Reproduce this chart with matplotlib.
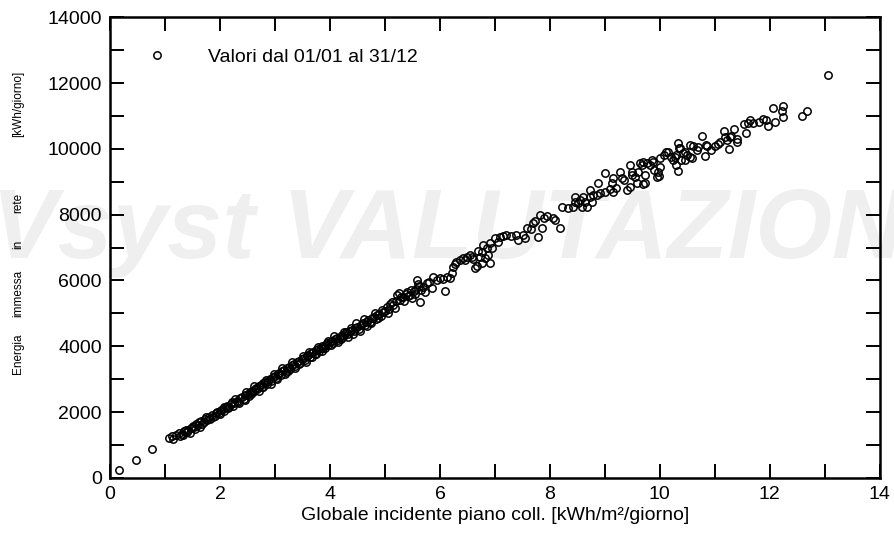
import matplotlib
matplotlib.use("Agg")
import matplotlib.pyplot as plt
from matplotlib.ticker import MultipleLocator

plt.rcParams['font.family'] = ['Liberation Sans', 'DejaVu Sans']

# Valori giornalieri: irraggiamento globale [kWh/m2/giorno] / energia in rete [kWh/giorno]
glob_inc = [
    0.16, 0.47, 0.76, 1.07, 1.12, 1.2, 1.25, 1.3, 1.35, 1.38, 1.42, 1.47, 1.5, 1.53, 1.57, 1.6, 1.62, 1.66,
    1.7, 1.72, 1.76, 1.8, 1.85, 1.88, 1.92, 1.95, 1.98, 2.02, 2.05, 2.08, 2.1, 2.13, 2.17, 2.2, 2.22, 2.26,
    2.3, 2.33, 2.36, 2.4, 2.43, 2.46, 2.5, 2.52, 2.55, 2.58, 2.6, 2.63, 2.66, 2.68, 2.71, 2.74, 2.76, 2.79,
    2.82, 2.85, 2.88, 2.9, 2.93, 2.96, 3.0, 3.02, 3.05, 3.08, 3.1, 3.13, 3.16, 3.2, 3.22, 3.25, 3.28, 3.31,
    3.34, 3.37, 3.4, 3.43, 3.46, 3.49, 3.52, 3.55, 3.58, 3.6, 3.63, 3.66, 3.69, 3.72, 3.75, 3.78, 3.8, 3.83,
    3.86, 3.88, 3.91, 3.94, 3.97, 4.0, 4.03, 4.06, 4.09, 4.12, 4.15, 4.18, 4.21, 4.24, 4.27, 4.3, 4.33, 4.36,
    4.4, 4.43, 4.46, 4.5, 4.53, 4.56, 4.6, 4.63, 4.66, 4.7, 4.73, 4.76, 4.8, 4.83, 4.86, 4.9, 4.93, 4.97,
    5.0, 5.03, 5.08, 5.12, 5.15, 5.2, 5.22, 5.27, 5.3, 5.33, 5.38, 5.4, 5.45, 5.5, 5.52, 5.56, 5.58, 5.6,
    5.64, 5.66, 5.7, 5.76, 5.85, 5.88, 6.0, 6.05, 6.09, 6.18, 6.21, 6.24, 6.3, 6.36, 6.42, 6.5, 6.55, 6.6,
    6.64, 6.68, 6.73, 6.76, 6.76, 6.79, 6.82, 6.87, 6.91, 6.91, 6.94, 7.0, 7.09, 7.15, 7.21, 7.39, 7.42, 7.51,
    7.55, 7.58, 7.65, 7.69, 7.78, 7.82, 7.85, 7.9, 8.05, 8.1, 8.18, 8.22, 8.33, 8.42, 8.45, 8.45, 8.51, 8.58,
    8.61, 8.64, 8.67, 8.73, 8.73, 8.76, 8.79, 8.88, 8.91, 9.0, 9.0, 9.09, 9.13, 9.15, 9.15, 9.21, 9.27, 9.31,
    9.4, 9.45, 9.45, 9.49, 9.49, 9.55, 9.58, 9.6, 9.64, 9.67, 9.69, 9.7, 9.73, 9.73, 9.76, 9.82, 9.85, 9.88,
    9.95, 9.97, 9.99, 10.0, 10.0, 10.12, 10.15, 10.2, 10.24, 10.27, 10.29, 10.3, 10.33, 10.33, 10.35, 10.36,
    10.39, 10.42, 10.45, 10.49, 10.55, 10.55, 10.58, 10.6, 10.67, 10.76, 10.82, 10.84, 10.85, 10.93, 11.05,
    11.09, 11.16, 11.18, 11.22, 11.25, 11.27, 11.35, 11.4, 11.41, 11.53, 11.56, 11.6, 11.64, 11.69, 11.87,
    11.93, 11.96, 12.06, 12.09, 12.22, 12.24, 12.24, 12.58, 12.67, 13.05,
    1.15, 1.28, 1.33, 1.4, 1.45, 1.55, 1.63, 1.68, 1.74, 1.82, 1.9, 2.0, 2.07, 2.15, 2.24, 2.28, 2.35, 2.45,
    2.48, 2.57, 2.62, 2.7, 2.78, 2.84, 2.92, 2.98, 3.04, 3.12, 3.18, 3.24, 3.3, 3.36, 3.44, 3.5, 3.56, 3.62,
    3.68, 3.74, 3.79, 3.85, 3.9, 3.96, 4.02, 4.08, 4.14, 4.2, 4.26, 4.32, 4.38, 4.42, 4.48, 4.55, 4.62, 4.68,
    4.75, 4.82, 4.88, 4.95, 5.05, 5.1, 5.18, 5.25, 5.35, 5.42, 5.48, 5.55, 5.62, 5.72, 5.8, 5.95, 6.12, 6.28,
    6.45, 6.58, 6.7, 6.85, 7.05, 7.3, 7.72, 7.95, 8.55, 8.85, 9.35, 9.9, 10.08, 10.45, 10.7, 11.0, 11.3, 11.8,
]
e_rete = [
    240, 545, 880, 1215, 1260, 1300, 1370, 1340, 1420, 1470, 1450, 1530, 1580, 1560, 1640, 1610, 1690, 1720,
    1700, 1790, 1760, 1850, 1900, 1860, 1960, 2010, 1980, 2060, 2100, 2040, 2150, 2200, 2170, 2250, 2300, 2270,
    2350, 2320, 2420, 2450, 2400, 2520, 2560, 2500, 2610, 2650, 2600, 2700, 2740, 2690, 2790, 2820, 2760, 2870,
    2910, 2860, 2960, 3000, 2950, 3060, 3100, 3040, 3150, 3190, 3130, 3250, 3290, 3230, 3340, 3380, 3320, 3430,
    3470, 3410, 3520, 3560, 3500, 3610, 3650, 3590, 3700, 3740, 3680, 3790, 3830, 3770, 3880, 3920, 3850, 3960,
    4000, 3940, 4050, 4090, 4030, 4130, 4170, 4110, 4210, 4250, 4190, 4290, 4330, 4270, 4380, 4420, 4360, 4470,
    4510, 4450, 4560, 4600, 4540, 4650, 4700, 4640, 4750, 4800, 4740, 4850, 4890, 4830, 4940, 4980, 4920, 5030,
    5070, 5190, 5130, 5340, 5250, 5380, 5560, 5420, 5500, 5490, 5600, 5650, 5560, 5470, 5680, 5750, 6010, 5900,
    5340, 5700, 5800, 5920, 5770, 6100, 6070, 6050, 5680, 6070, 6230, 6410, 6560, 6620, 6680, 6710, 6770, 6650,
    6380, 6450, 6710, 6860, 6530, 7080, 6680, 6770, 7140, 6530, 6990, 7290, 7320, 7350, 7380, 7380, 7230, 7380,
    7300, 7590, 7550, 7740, 7320, 7990, 7590, 7900, 7900, 7850, 7590, 8230, 8200, 8230, 8530, 8380, 8350, 8230,
    8530, 8380, 8230, 8530, 8750, 8380, 8590, 8960, 8650, 9260, 8690, 8780, 8960, 8690, 9110, 8810, 9290, 9110,
    8750, 8840, 9500, 9200, 9290, 9140, 8960, 9290, 9570, 9500, 9600, 8930, 9200, 8960, 9570, 9500, 9660, 9600,
    9140, 9290, 9170, 9440, 9720, 9900, 9900, 9750, 9660, 9750, 9500, 9810, 9320, 10170, 10020, 10020,
    9660, 9870, 9660, 9810, 10110, 9750, 9720, 10080, 9960, 10390, 9780, 10110, 10080, 9960, 10140,
    10200, 10540, 10360, 10260, 9990, 10360, 10600, 10290, 10200, 10750, 10480, 10780, 10870, 10780, 10900,
    10870, 10690, 11240, 10810, 11150, 11300, 10960, 10990, 11150, 12240,
    1180, 1260, 1290, 1390, 1380, 1480, 1560, 1650, 1840, 1780, 1880, 1950, 2160, 2120, 2190, 2400, 2280, 2380,
    2610, 2560, 2780, 2650, 2760, 2980, 2860, 3160, 3000, 3330, 3170, 3240, 3510, 3350, 3460, 3700, 3520, 3820,
    3660, 3780, 3990, 3860, 3960, 4160, 4040, 4300, 4120, 4210, 4420, 4280, 4550, 4380, 4700, 4470, 4820, 4620,
    4700, 5010, 4860, 5100, 5000, 5290, 5150, 5610, 5380, 5520, 5700, 5580, 5830, 5660, 5950, 6000, 6100, 6490,
    6620, 6700, 6900, 7000, 7180, 7350, 7800, 7950, 8450, 8600, 9050, 9350, 9800, 9900, 10050, 10100, 10400, 10800,
]

# parole dell'etichetta verticale, molto spaziate come nell'originale
ylabel_words = ["Energia", "immessa", "in", "rete", "[kWh/giorno]"]
ylabel_pos = [0.341, 0.454, 0.545, 0.622, 0.806]

fig = plt.figure(figsize=(8.95, 5.37), dpi=100)
ax = fig.add_axes([0.123, 0.110, 0.860, 0.858])

# filigrana
ax.text(0.5, 0.52, "PVsyst VALUTAZIONE", transform=fig.transFigure, ha='center', va='baseline',
        fontsize=71, fontweight='bold', fontstyle='italic', color='#efefef', zorder=0, clip_on=False)

ax.plot(glob_inc, e_rete, linestyle='none', marker='o', markersize=5.3, markerfacecolor='none',
        markeredgecolor='black', markeredgewidth=1.1, label='Valori dal 01/01 al 31/12', zorder=3)

ax.set_xlim(0, 14)
ax.set_ylim(0, 14000)
ax.xaxis.set_major_locator(MultipleLocator(2))
ax.xaxis.set_minor_locator(MultipleLocator(1))
ax.yaxis.set_major_locator(MultipleLocator(2000))
ax.yaxis.set_minor_locator(MultipleLocator(1000))
ax.tick_params(which='both', direction='in', top=True, right=True, length=10, width=1.4)
ax.tick_params(which='major', labelsize=14, pad=6)
for s in ax.spines.values():
    s.set_linewidth(1.8)

ax.set_xlabel("Globale incidente piano coll. [kWh/m²/giorno]", fontsize=14, labelpad=3)
for w, yp in zip(ylabel_words, ylabel_pos):
    fig.text(0.020, yp, w, rotation=90, ha='center', va='center', fontsize=8.5)

ax.legend(loc='upper left', bbox_to_anchor=(0.046, 0.933), frameon=False, fontsize=14,
          handletextpad=2.0, handlelength=1.2, borderpad=0, borderaxespad=0)

fig.savefig("out.png", dpi=100)
